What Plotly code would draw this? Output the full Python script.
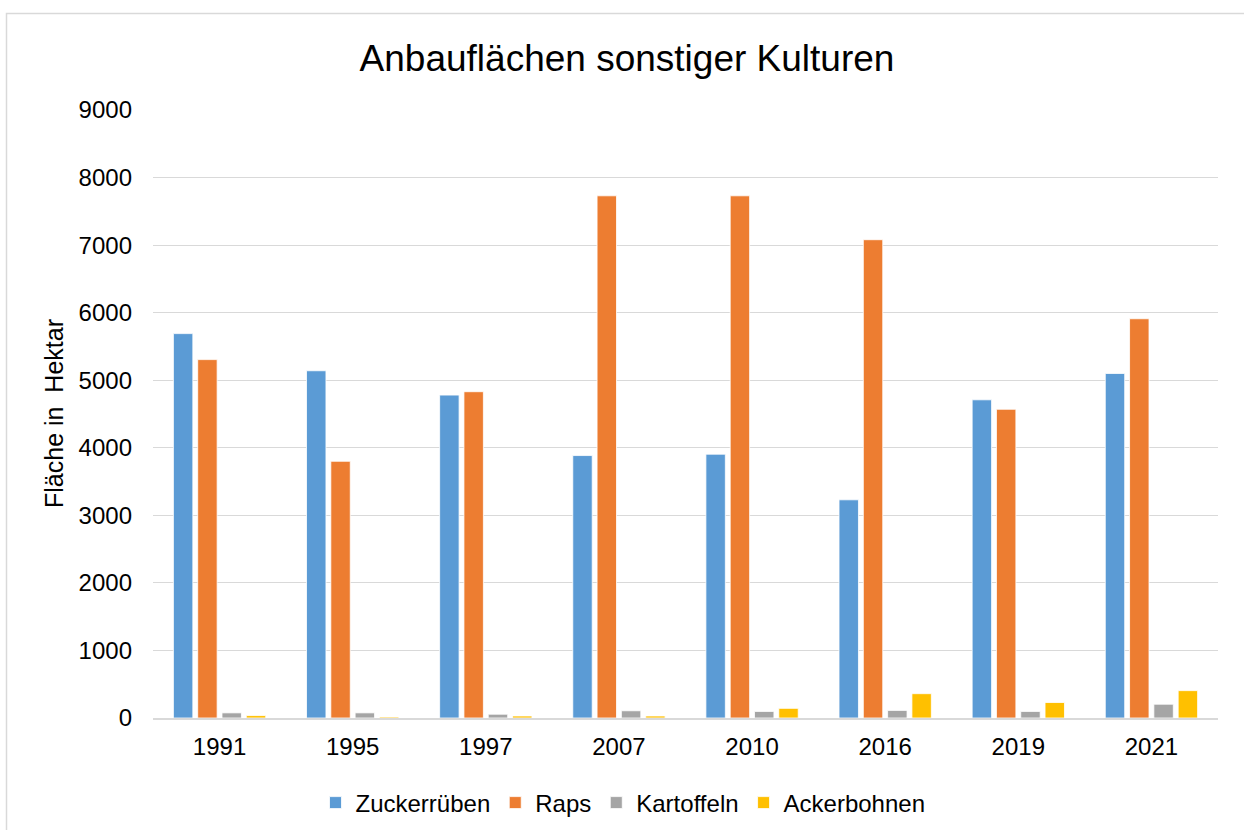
import plotly.graph_objects as go

years = ["1991", "1995", "1997", "2007", "2010", "2016", "2019", "2021"]
zuckerrueben = [5690, 5140, 4780, 3885, 3905, 3230, 4710, 5100]
raps = [5305, 3800, 4830, 7730, 7730, 7080, 4570, 5910]
kartoffeln = [76, 76, 56, 107, 97, 112, 97, 204]
ackerbohnen = [36, 15, 30, 30, 143, 360, 229, 405]

series_names = ["Zuckerrüben", "Raps", "Kartoffeln", "Ackerbohnen"]
series_values = [zuckerrueben, raps, kartoffeln, ackerbohnen]
colors = ["#5B9BD5", "#ED7D31", "#A5A5A5", "#FFC000"]
y_ticks = [0, 1000, 2000, 3000, 4000, 5000, 6000, 7000, 8000, 9000]

FONT = "Liberation Sans, Arial, sans-serif"

fig = go.Figure()
for name, vals, col in zip(series_names, series_values, colors):
    fig.add_trace(go.Bar(
        x=years, y=vals, name=name,
        marker=dict(color=col, line=dict(color="white", width=0.8)),
    ))

W, H = 1244, 830
L, R, T, B = 153, 26, 110, 112
pw, ph = W - L - R, H - T - B

fig.update_layout(
    width=W, height=H,
    margin=dict(l=L, r=R, t=T, b=B, autoexpand=False),
    paper_bgcolor="white", plot_bgcolor="white",
    font=dict(family=FONT, color="#000000"),
    barmode="group", bargap=0.27, bargroupgap=0.2,
    title=dict(text="Anbauflächen sonstiger Kulturen",
               x=627 / W, xanchor="center", xref="container",
               y=1 - 58 / H, yanchor="middle", yref="container",
               font=dict(size=37, family=FONT, color="#000000")),
    legend=dict(orientation="h", x=(623 - L) / pw, xanchor="center",
                y=-(803 - (H - B)) / ph, yanchor="middle",
                font=dict(size=24, family=FONT, color="#000000"),
                traceorder="normal"),
    xaxis=dict(showgrid=False, showline=True, linecolor="#D9D9D9", linewidth=1.5,
               ticks="", tickfont=dict(size=24, family=FONT, color="#000000"),
               ticklabelstandoff=6, fixedrange=True),
    yaxis=dict(range=[0, 9000], tickvals=y_ticks, showgrid=True,
               gridcolor="#D9D9D9", gridwidth=1.2, zeroline=False, showline=False,
               ticks="", tickfont=dict(size=24, family=FONT, color="#000000"),
               ticklabelstandoff=20, fixedrange=True),
    annotations=[dict(text="Fläche in\u00a0 Hektar", textangle=-90,
                      xref="paper", yref="paper",
                      x=(54 - L) / pw, y=(H - B - 414) / ph,
                      xanchor="center", yanchor="middle", showarrow=False,
                      font=dict(size=25, family=FONT, color="#000000"))],
    shapes=[dict(type="rect", xref="paper", yref="paper",
                 x0=(6.5 - L) / pw, x1=(W + 20 - L) / pw,
                 y0=-(H + 20 - (H - B)) / ph, y1=(H - B - 13.5) / ph,
                 line=dict(color="#D9D9D9", width=1.5), layer="below")],
)

fig.write_html("out.html",
               config={"displayModeBar": False},
               post_script="document.body.style.margin='0px';document.body.style.padding='0px';")
